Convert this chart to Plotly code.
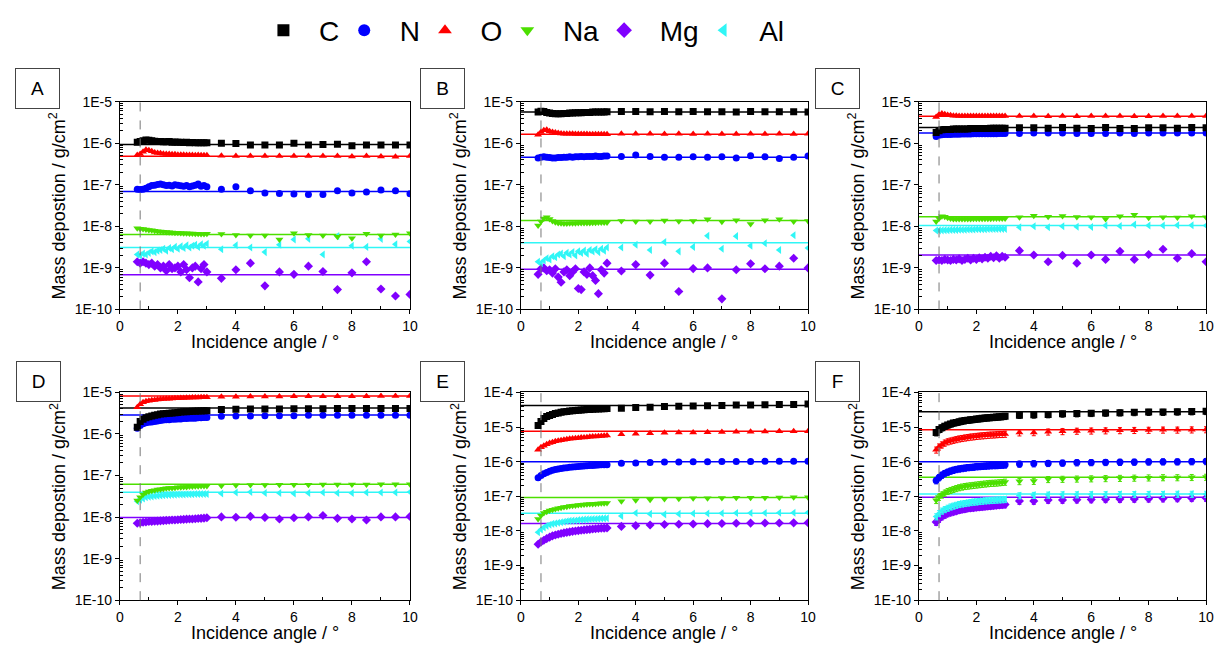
import plotly.graph_objects as go
import numpy as np

# ---------------- data ----------------
elements = ["C", "N", "O", "Na", "Mg", "Al"]
colors = {"C": "#000000", "N": "#0000FF", "O": "#FF0000",
          "Na": "#4CDF00", "Mg": "#8000FF", "Al": "#30F6F6"}
symbols = {"C": "square", "N": "circle", "O": "triangle-up",
           "Na": "triangle-down", "Mg": "diamond", "Al": "triangle-left"}

x_dense = [0.6, 0.7, 0.8, 0.9, 1.0, 1.1, 1.2, 1.3, 1.4, 1.5, 1.6, 1.7, 1.8,
           1.9, 2.0, 2.1, 2.2, 2.3, 2.4, 2.5, 2.6, 2.7, 2.8, 2.9, 3.0]
x_sparse = [3.5, 4.0, 4.5, 5.0, 5.5, 6.0, 6.5, 7.0, 7.5, 8.0, 8.5, 9.0, 9.5, 10.0]
angles = x_dense + x_sparse
critical_angle = 0.7

# Panel A
A_C = np.array([1.05, 1.1, 1.15, 1.2, 1.18, 1.15, 1.12, 1.1, 1.1, 1.08, 1.08, 1.1, 1.06, 1.07, 1.05, 1.06, 1.04, 1.05, 1.03, 1.04, 1.02, 1.03, 1.02, 1.03, 1.02,
                1.0, 0.98, 0.91, 0.91, 0.91, 1.0, 0.91, 0.93, 0.95, 0.87, 0.91, 0.91, 0.91, 0.91]) * 1e-6
A_N = np.array([7.8, 7.7, 7.8, 8.2, 9.0, 9.6, 9.8, 10.2, 10.5, 10.0, 9.6, 9.8, 9.4, 10.0, 9.8, 9.5, 9.2, 9.6, 9.0, 9.4, 9.8, 10.4, 9.2, 9.6, 9.0,
                7.8, 9.0, 7.2, 6.3, 6.2, 6.0, 5.8, 5.8, 7.2, 6.3, 6.7, 7.5, 7.2, 6.1]) * 1e-8
A_O = np.array([5.2, 5.5, 6.2, 7.0, 6.8, 6.4, 6.0, 5.8, 5.7, 5.6, 5.5, 5.5, 5.4, 5.4, 5.3, 5.3, 5.3, 5.2, 5.2, 5.2, 5.1, 5.2, 5.1, 5.1, 5.1,
                5.0, 4.9, 4.9, 4.9, 4.9, 4.9, 4.9, 4.9, 4.9, 4.8, 4.9, 4.8, 4.7, 4.9]) * 1e-7
A_Na = np.array([9.0, 8.8, 8.6, 8.4, 8.2, 8.0, 7.8, 7.6, 7.5, 7.4, 7.3, 7.2, 7.1, 7.0, 7.0, 6.9, 6.8, 6.8, 6.7, 6.7, 6.6, 6.6, 6.5, 6.5, 6.6,
                 6.5, 6.2, 6.0, 6.0, 4.8, 6.8, 6.2, 6.0, 5.6, 5.2, 6.6, 6.0, 6.4, 6.8]) * 1e-9
A_Mg = np.array([14, 13, 14, 13, 12, 13, 11, 12, 10, 11, 8.5, 12, 9.5, 10, 11, 8, 12, 9, 5.8, 10, 11, 4.6, 9.5, 12, 8,
                 5.6, 9.0, 13, 3.7, 8.0, 7.0, 11, 8.2, 3.0, 7.6, 14, 3.1, 2.1, 2.3]) * 1e-10
A_Al = np.array([2.1, 2.0, 2.2, 2.1, 2.3, 2.5, 2.4, 2.6, 2.7, 2.9, 2.6, 3.0, 2.8, 3.2, 2.9, 3.3, 3.0, 3.5, 3.1, 3.4, 3.6, 3.2, 3.7, 3.4, 3.8,
                 2.8, 3.5, 3.1, 2.4, 3.6, 4.8, 5.0, 2.1, 5.8, 3.4, 3.2, 5.0, 3.7, 4.3]) * 1e-9
A_mean = [9.3e-7, 6.86e-8, 4.87e-7, 6.38e-9, 6.85e-10, 3.1e-9]

# Panel B
B_C = np.array([5.6, 5.9, 5.8, 5.5, 5.3, 5.2, 5.1, 5.1, 5.1, 5.2, 5.2, 5.3, 5.3, 5.4, 5.4, 5.4, 5.5, 5.5, 5.5, 5.6, 5.6, 5.6, 5.6, 5.6, 5.7,
                5.8, 5.8, 5.7, 5.8, 5.7, 5.8, 5.7, 5.7, 5.6, 5.8, 5.7, 5.7, 5.7, 5.6]) * 1e-6
B_N = np.array([4.4, 4.6, 4.7, 4.6, 4.5, 4.4, 4.4, 4.5, 4.5, 4.6, 4.6, 4.7, 4.6, 4.7, 4.7, 4.8, 4.7, 4.8, 4.8, 4.8, 4.9, 4.8, 4.8, 4.9, 4.9,
                4.8, 5.2, 4.8, 4.6, 4.6, 4.7, 4.6, 4.7, 4.4, 5.0, 4.7, 4.3, 4.6, 4.9]) * 1e-7
B_O = np.array([1.6, 1.85, 2.05, 2.1, 1.95, 1.85, 1.8, 1.75, 1.72, 1.7, 1.7, 1.68, 1.68, 1.67, 1.67, 1.66, 1.66, 1.66, 1.65, 1.65, 1.65, 1.65, 1.65, 1.65, 1.65,
                1.68, 1.7, 1.68, 1.67, 1.68, 1.67, 1.68, 1.66, 1.67, 1.68, 1.67, 1.68, 1.67, 1.68]) * 1e-6
B_Na = np.array([1.05, 1.3, 1.55, 1.65, 1.5, 1.35, 1.25, 1.2, 1.18, 1.17, 1.17, 1.18, 1.18, 1.19, 1.2, 1.2, 1.2, 1.21, 1.21, 1.22, 1.22, 1.23, 1.23, 1.23, 1.24,
                 1.35, 1.3, 1.3, 1.38, 1.33, 1.35, 1.48, 1.28, 1.4, 1.13, 1.4, 1.48, 1.3, 1.35]) * 1e-8
B_Mg = np.array([7.0, 9.5, 10, 8.5, 9.0, 7.5, 9.5, 6.0, 4.5, 8.0, 9.0, 6.5, 8.0, 9.5, 3.2, 3.0, 8.0, 7.0, 10, 6.5, 5.0, 2.4, 9.0, 7.5, 13,
                 8.4, 12, 6.7, 13, 2.7, 9.6, 10, 1.8, 9.0, 12.6, 9.5, 11, 17, 10]) * 1e-10
B_Al = np.array([1.4, 1.3, 1.5, 1.7, 1.6, 1.9, 1.8, 2.1, 2.2, 1.9, 2.3, 2.1, 2.4, 2.0, 2.5, 2.3, 2.6, 2.2, 2.7, 2.5, 2.8, 2.4, 2.9, 2.6, 3.1,
                 3.1, 3.6, 2.7, 4.2, 2.5, 3.2, 5.9, 2.9, 5.8, 3.4, 3.9, 2.7, 6.1, 3.0]) * 1e-9
B_mean = [5.6e-6, 4.6e-7, 1.65e-6, 1.38e-8, 9.3e-10, 4.0e-9]

# Panel C
C_C = np.array([1.8, 2.0, 2.1, 2.15, 2.15, 2.15, 2.2, 2.2, 2.2, 2.2, 2.2, 2.2, 2.25, 2.25, 2.25, 2.25, 2.25, 2.25, 2.25, 2.3, 2.3, 2.3, 2.3, 2.3, 2.3,
                2.35, 2.35, 2.3, 2.4, 2.3, 2.25, 2.4, 2.25, 2.25, 2.35, 2.35, 2.3, 2.4, 2.35]) * 1e-6
C_N = np.array([1.45, 1.55, 1.6, 1.62, 1.62, 1.63, 1.64, 1.65, 1.65, 1.66, 1.66, 1.67, 1.67, 1.68, 1.68, 1.68, 1.69, 1.69, 1.7, 1.7, 1.7, 1.7, 1.71, 1.71, 1.72,
                1.72, 1.75, 1.75, 1.75, 1.72, 1.72, 1.72, 1.75, 1.72, 1.75, 1.75, 1.75, 1.75, 1.75]) * 1e-6
C_O = np.array([4.3, 4.9, 5.2, 5.0, 4.8, 4.7, 4.6, 4.6, 4.5, 4.5, 4.5, 4.5, 4.5, 4.5, 4.5, 4.5, 4.5, 4.5, 4.5, 4.5, 4.5, 4.5, 4.5, 4.5, 4.5,
                4.5, 4.5, 4.45, 4.5, 4.45, 4.5, 4.5, 4.5, 4.45, 4.45, 4.5, 4.5, 4.5, 4.5]) * 1e-6
C_Na = np.array([1.3, 1.55, 1.75, 1.7, 1.6, 1.55, 1.5, 1.5, 1.5, 1.5, 1.5, 1.5, 1.5, 1.52, 1.52, 1.52, 1.52, 1.53, 1.53, 1.53, 1.54, 1.54, 1.54, 1.55, 1.55,
                 1.65, 1.8, 1.7, 1.78, 1.68, 1.65, 1.5, 1.75, 1.9, 1.6, 1.65, 1.62, 1.75, 1.65]) * 1e-8
C_Mg = np.array([1.5, 1.55, 1.5, 1.6, 1.55, 1.5, 1.6, 1.55, 1.65, 1.5, 1.6, 1.7, 1.55, 1.7, 1.6, 1.75, 1.65, 1.8, 1.7, 1.9, 1.75, 1.95, 1.7, 1.9, 1.8,
                 2.6, 2.05, 1.4, 2.0, 1.3, 2.05, 1.6, 2.5, 1.6, 2.1, 2.8, 1.7, 2.2, 1.4]) * 1e-9
C_Al = np.array([7.9, 8.0, 8.0, 8.1, 8.1, 8.2, 8.2, 8.2, 8.3, 8.3, 8.3, 8.4, 8.4, 8.4, 8.5, 8.5, 8.5, 8.5, 8.6, 8.6, 8.6, 8.6, 8.7, 8.7, 8.7,
                 9.5, 10, 9.5, 10, 9.8, 9.6, 10.5, 10.2, 11, 10.5, 10.5, 10.6, 10.6, 10.4]) * 1e-9
C_mean = [2.4e-6, 1.75e-6, 4.45e-6, 1.69e-8, 2.05e-9, 1.05e-8]

# Panel D
D_C = np.array([1.45, 2.0, 2.25, 2.45, 2.6, 2.7, 2.8, 2.9, 3.0, 3.05, 3.1, 3.15, 3.2, 3.25, 3.3, 3.35, 3.4, 3.4, 3.45, 3.5, 3.5, 3.55, 3.55, 3.6, 3.6,
                3.9, 3.95, 4.0, 4.0, 4.0, 4.05, 4.05, 4.05, 4.1, 4.1, 4.1, 4.1, 4.1, 4.1]) * 1e-6
D_N = np.array([1.38, 1.6, 1.75, 1.85, 1.9, 1.95, 2.0, 2.05, 2.1, 2.15, 2.2, 2.2, 2.25, 2.25, 2.3, 2.3, 2.35, 2.35, 2.4, 2.4, 2.4, 2.45, 2.45, 2.5, 2.5,
                2.65, 2.7, 2.7, 2.75, 2.75, 2.75, 2.8, 2.8, 2.8, 2.8, 2.8, 2.8, 2.8, 2.8]) * 1e-6
D_O = np.array([4.4, 5.2, 5.8, 6.1, 6.3, 6.5, 6.6, 6.7, 6.8, 6.9, 7.0, 7.0, 7.1, 7.2, 7.2, 7.3, 7.3, 7.4, 7.4, 7.5, 7.5, 7.5, 7.6, 7.6, 7.6,
                7.9, 7.9, 8.0, 8.0, 8.0, 8.1, 8.1, 8.1, 8.1, 8.1, 8.1, 8.2, 8.2, 8.2]) * 1e-6
D_Na = np.array([2.5, 3.0, 3.5, 3.9, 4.1, 4.3, 4.4, 4.6, 4.7, 4.8, 4.9, 5.0, 5.0, 5.1, 5.2, 5.2, 5.3, 5.3, 5.4, 5.4, 5.5, 5.5, 5.6, 5.6, 5.6,
                 5.7, 5.8, 5.9, 5.9, 6.0, 6.0, 6.0, 6.1, 6.1, 6.1, 6.1, 6.2, 6.2, 6.2]) * 1e-8
D_Mg = np.array([7.1, 7.3, 7.5, 7.6, 7.8, 7.8, 7.9, 8.0, 8.1, 8.2, 8.3, 8.4, 8.5, 8.5, 8.6, 8.7, 8.8, 8.9, 9.0, 9.0, 9.1, 9.2, 9.3, 9.4, 9.6,
                 10.1, 9.9, 10.4, 9.8, 9.0, 9.6, 10.1, 10.9, 9.3, 9.0, 8.5, 10.1, 10.1, 10.3]) * 1e-9
D_Al = np.array([2.4, 2.6, 2.8, 3.0, 3.1, 3.15, 3.2, 3.25, 3.3, 3.35, 3.4, 3.4, 3.45, 3.45, 3.5, 3.5, 3.5, 3.55, 3.55, 3.55, 3.6, 3.6, 3.6, 3.6, 3.6,
                 3.7, 3.9, 4.0, 3.8, 3.8, 3.7, 3.8, 3.9, 3.8, 3.8, 3.9, 3.9, 3.9, 4.0]) * 1e-8
D_mean = [4.2e-6, 2.84e-6, 8.2e-6, 6.15e-8, 9.8e-9, 3.93e-8]

# Panel E
E_C = np.array([1.1, 1.45, 1.75, 2.0, 2.15, 2.3, 2.45, 2.55, 2.65, 2.75, 2.8, 2.9, 2.95, 3.0, 3.05, 3.1, 3.15, 3.2, 3.2, 3.25, 3.3, 3.3, 3.35, 3.35, 3.4,
                3.5, 3.65, 3.75, 3.9, 4.0, 4.05, 4.1, 4.2, 4.3, 4.35, 4.4, 4.45, 4.5, 4.6]) * 1e-5
E_N = np.array([3.4, 4.0, 4.5, 4.9, 5.3, 5.6, 5.9, 6.1, 6.3, 6.5, 6.7, 6.9, 7.0, 7.1, 7.3, 7.4, 7.5, 7.6, 7.7, 7.8, 7.9, 8.0, 8.1, 8.1, 8.2,
                9.0, 9.2, 9.5, 9.7, 9.8, 9.9, 10, 10.1, 10.1, 10.1, 10.2, 10.2, 10.3, 10.3]) * 1e-7
E_O = np.array([2.2, 2.6, 2.9, 3.2, 3.45, 3.65, 3.85, 4.0, 4.15, 4.3, 4.45, 4.55, 4.65, 4.75, 4.85, 4.95, 5.0, 5.1, 5.2, 5.3, 5.35, 5.45, 5.5, 5.6, 5.7,
                6.2, 6.4, 6.6, 6.8, 6.9, 7.0, 7.1, 7.2, 7.3, 7.3, 7.4, 7.5, 7.5, 7.6]) * 1e-6
E_Na = np.array([2.2, 2.8, 3.3, 3.6, 3.9, 4.1, 4.3, 4.5, 4.7, 4.9, 5.0, 5.2, 5.3, 5.4, 5.6, 5.7, 5.8, 5.9, 6.0, 6.0, 6.1, 6.2, 6.3, 6.3, 6.4,
                 7.2, 7.7, 8.0, 8.3, 8.5, 8.7, 8.8, 8.9, 9.0, 9.1, 9.1, 9.2, 9.3, 9.3]) * 1e-8
E_Mg = np.array([4.1, 4.8, 5.4, 6.0, 6.6, 7.2, 7.6, 8.0, 8.4, 8.8, 9.1, 9.4, 9.7, 9.9, 10.2, 10.4, 10.7, 10.9, 11.1, 11.3, 11.5, 11.7, 11.9, 12.0, 12.2,
                 13.5, 14.2, 14.8, 15.3, 15.6, 15.9, 16.2, 16.4, 16.6, 16.8, 16.9, 17.0, 17.1, 17.2]) * 1e-9
E_Al = np.array([0.92, 1.1, 1.25, 1.4, 1.5, 1.6, 1.65, 1.72, 1.78, 1.84, 1.9, 1.95, 1.98, 2.0, 2.05, 2.1, 2.12, 2.15, 2.18, 2.2, 2.22, 2.25, 2.28, 2.3, 2.32,
                 2.7, 3.3, 3.1, 3.0, 3.1, 3.2, 3.2, 3.25, 3.3, 3.3, 3.3, 3.35, 3.35, 3.4]) * 1e-8
E_mean = [4.2e-5, 1.0e-6, 7.55e-6, 9.2e-8, 1.65e-8, 3.25e-8]

# Panel F
F_C = np.array([0.69, 0.85, 0.96, 1.06, 1.14, 1.22, 1.3, 1.36, 1.42, 1.48, 1.53, 1.58, 1.62, 1.66, 1.7, 1.74, 1.78, 1.82, 1.85, 1.88, 1.91, 1.94, 1.97, 2.0, 2.05,
                2.2, 2.25, 2.3, 2.4, 2.45, 2.5, 2.55, 2.6, 2.65, 2.7, 2.7, 2.75, 2.8, 2.85]) * 1e-5
F_N = np.array([2.85, 3.5, 4.1, 4.6, 5.0, 5.4, 5.7, 6.0, 6.2, 6.4, 6.6, 6.8, 6.9, 7.0, 7.2, 7.3, 7.4, 7.5, 7.6, 7.7, 7.8, 7.8, 7.9, 8.0, 8.1,
                8.6, 8.8, 9.0, 9.2, 9.4, 9.5, 9.6, 9.7, 9.8, 9.9, 10, 10, 10.1, 10.2]) * 1e-7
F_O = np.array([2.2, 2.7, 3.1, 3.5, 3.8, 4.0, 4.2, 4.4, 4.6, 4.75, 4.9, 5.05, 5.2, 5.3, 5.45, 5.55, 5.65, 5.75, 5.85, 5.95, 6.0, 6.1, 6.2, 6.2, 6.3,
                6.9, 7.0, 7.3, 7.5, 7.7, 7.8, 7.9, 8.0, 8.1, 8.2, 8.3, 8.3, 8.4, 8.5]) * 1e-6
F_Na = np.array([0.77, 0.95, 1.1, 1.25, 1.4, 1.5, 1.6, 1.7, 1.8, 1.88, 1.95, 2.0, 2.05, 2.1, 2.15, 2.2, 2.25, 2.3, 2.35, 2.4, 2.42, 2.45, 2.5, 2.55, 2.6,
                 2.7, 2.75, 3.1, 3.15, 3.2, 3.25, 3.3, 3.35, 3.4, 3.45, 3.5, 3.5, 3.55, 3.6]) * 1e-7
F_Mg = np.array([1.8, 2.2, 2.6, 2.9, 3.2, 3.4, 3.6, 3.8, 4.0, 4.2, 4.3, 4.5, 4.6, 4.7, 4.8, 4.9, 5.0, 5.1, 5.2, 5.3, 5.4, 5.5, 5.6, 5.7, 5.8,
                 7.3, 7.3, 7.8, 7.8, 8.0, 8.1, 8.2, 8.3, 8.4, 8.5, 8.6, 8.7, 8.8, 8.9]) * 1e-8
F_Al = np.array([2.6, 3.2, 3.8, 4.2, 4.6, 5.0, 5.3, 5.6, 5.9, 6.1, 6.3, 6.5, 6.7, 6.9, 7.0, 7.2, 7.3, 7.5, 7.6, 7.7, 7.8, 7.9, 8.0, 8.1, 8.2,
                 10.5, 10.8, 11, 11.2, 11.2, 11.3, 11.3, 11.4, 11.4, 11.5, 11.5, 11.6, 11.6, 11.6]) * 1e-8
F_mean = [2.78e-5, 1.0e-6, 8.4e-6, 3.53e-7, 9.4e-8, 1.16e-7]
F_err_pct = 20

panel_labels = ["A", "B", "C", "D", "E", "F"]
panels = {
    "A": ({"C": A_C, "N": A_N, "O": A_O, "Na": A_Na, "Mg": A_Mg, "Al": A_Al}, A_mean),
    "B": ({"C": B_C, "N": B_N, "O": B_O, "Na": B_Na, "Mg": B_Mg, "Al": B_Al}, B_mean),
    "C": ({"C": C_C, "N": C_N, "O": C_O, "Na": C_Na, "Mg": C_Mg, "Al": C_Al}, C_mean),
    "D": ({"C": D_C, "N": D_N, "O": D_O, "Na": D_Na, "Mg": D_Mg, "Al": D_Al}, D_mean),
    "E": ({"C": E_C, "N": E_N, "O": E_O, "Na": E_Na, "Mg": E_Mg, "Al": E_Al}, E_mean),
    "F": ({"C": F_C, "N": F_N, "O": F_O, "Na": F_Na, "Mg": F_Mg, "Al": F_Al}, F_mean),
}
y_top_exp = {"A": -5, "B": -5, "C": -5, "D": -5, "E": -4, "F": -4}

# ---------------- layout geometry (window pixels) ----------------
W, H = 1223, 655


def fx(px):
    return px / W


def fy(py):
    return 1 - py / H


col_px = [(117, 410), (522, 812), (924, 1214)]
row_px = [(96, 309), (394, 607)]
box_px = [(34, 83), (443, 83), (842, 83), (35, 383), (443, 383), (842, 383)]

fig = go.Figure()
font_family = "Liberation Sans, Arial, sans-serif"
NBSP = "\u00a0"

for i, p in enumerate(panel_labels):
    n = i + 1
    xa = "x" if n == 1 else f"x{n}"
    ya = "y" if n == 1 else f"y{n}"
    series, means = panels[p]
    # mean lines
    for k, el in enumerate(elements):
        fig.add_trace(go.Scatter(
            x=[0, 10], y=[means[k], means[k]], mode="lines",
            line=dict(color=colors[el], width=1.5),
            showlegend=False, hoverinfo="skip", xaxis=xa, yaxis=ya))
    # data markers
    for el in ["Mg", "Al", "Na", "N", "O", "C"]:
        err = None
        if p == "F":
            err = dict(type="percent", value=F_err_pct, color=colors[el],
                       thickness=1, width=2)
        fig.add_trace(go.Scatter(
            x=angles, y=series[el], mode="markers", name=NBSP * 2 + el,
            marker=dict(symbol=symbols[el], color=colors[el], size=7,
                        line=dict(width=0)),
            error_y=err,
            legendgroup=el, legendrank=elements.index(el),
            showlegend=(n == 1), xaxis=xa, yaxis=ya))
    # dashed vertical line at the critical angle
    fig.add_shape(type="line", x0=critical_angle, x1=critical_angle,
                  y0=0, y1=1, xref=xa, yref=f"{ya} domain",
                  line=dict(color="#777777", width=1, dash="dash"))

    r, c = divmod(i, 3)
    x0, x1 = col_px[c]
    y0, y1 = row_px[r]
    top = y_top_exp[p]
    decades = list(range(-10, top + 1))
    minor_vals = [m * 10.0 ** d for d in range(-10, top) for m in range(2, 10)]
    axis_common = dict(showline=True, linecolor="black", linewidth=1,
                       mirror=True, showgrid=False, zeroline=False,
                       ticks="outside", ticklen=4, tickcolor="black",
                       tickfont=dict(family=font_family, size=14, color="black"))
    fig.layout[f"xaxis{'' if n == 1 else n}"] = dict(
        domain=[fx(x0), fx(x1)], anchor=ya, range=[0, 10],
        tickvals=[0, 2, 4, 6, 8, 10],
        minor=dict(tickvals=[1, 3, 5, 7, 9], ticks="inside", ticklen=3,
                   tickcolor="black"),
        **axis_common)
    fig.layout[f"yaxis{'' if n == 1 else n}"] = dict(
        domain=[fy(y1), fy(y0)], anchor=xa, type="log",
        range=[-10, top],
        tickvals=[10.0 ** d for d in decades],
        ticktext=[f"1E{d}" for d in decades],
        minor=dict(tickvals=minor_vals, ticks="inside", ticklen=3,
                   tickcolor="black"),
        **axis_common)

    # axis titles
    fig.add_annotation(text="Mass depostion / g/cm<sup>2</sup>", textangle=-90,
                       xref=f"{xa} domain", yref=f"{ya} domain", x=0, y=0.5,
                       xshift=-62, showarrow=False, xanchor="center",
                       yanchor="middle",
                       font=dict(family=font_family, size=18, color="black"))
    fig.add_annotation(text="Incidence angle / °",
                       xref=f"{xa} domain", yref=f"{ya} domain", x=0.5, y=0,
                       yshift=-33, showarrow=False, xanchor="center",
                       yanchor="middle",
                       font=dict(family=font_family, size=18, color="black"))
    # panel letter box
    bx, by = box_px[i]
    fig.add_annotation(text=p, xref="paper", yref="paper",
                       x=fx(bx), y=fy(by), showarrow=False,
                       xanchor="center", yanchor="middle",
                       width=41, height=37, bordercolor="#444444",
                       borderwidth=1, bgcolor="white",
                       font=dict(family=font_family, size=19, color="black"))

fig.update_layout(
    width=W, height=H,
    margin=dict(l=0, r=0, t=0, b=0),
    paper_bgcolor="white", plot_bgcolor="white",
    showlegend=True,
    legend=dict(orientation="h", x=fx(262), y=fy(23),
                xanchor="left", yanchor="middle",
                font=dict(family=font_family, size=28, color="black"),
                itemsizing="constant",
                traceorder="normal", bgcolor="rgba(0,0,0,0)"),
)

# let the figure fill the window exactly (no default page margin)
page_css = ("document.body.style.margin='0';"
            "document.body.style.overflow='hidden';")
fig.write_html("out.html", post_script=page_css,
               config={"displayModeBar": False})
